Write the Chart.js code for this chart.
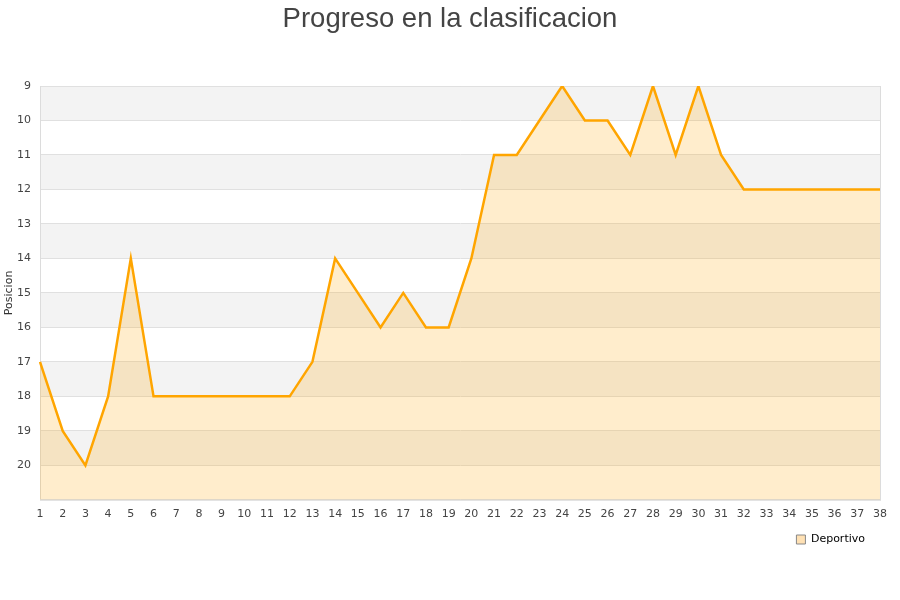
<!DOCTYPE html>
<html>
<head>
<meta charset="utf-8">
<script src="https://cdn.jsdelivr.net/npm/chart.js@4/dist/chart.umd.min.js"></script>
<style>
  body { margin: 0; background: #fff; }
</style>
</head>
<body>
<canvas id="line-chart" width="900" height="600"></canvas>
<script>
// jornadas y posiciones
let jornadas = [];
for (let j = 1; j <= 38; j++) jornadas.push(String(j));
let posiciones = [17, 19, 20, 18, 14, 18, 18, 18, 18, 18, 18, 18, 17, 14, 15, 16, 15, 16, 16, 14,
                  11, 11, 10, 9, 10, 10, 11, 9, 11, 9, 11, 12, 12, 12, 12, 12, 12, 12];
let equipo = "Deportivo";

// bandas grises alternas detras de la linea
const bandas = {
    id: 'bandas',
    beforeDraw(chart) {
        let ctx = chart.ctx, area = chart.chartArea, y = chart.scales.y;
        // la leyenda termina un poco antes del borde del grafico
        chart.legend.right = area.right - 5;
        ctx.save();
        ctx.fillStyle = '#f3f3f3';
        for (let v = 9; v < 21; v += 2) {
            let top = y.getPixelForValue(v), bot = y.getPixelForValue(v + 1);
            ctx.fillRect(area.left, top, area.right - area.left, bot - top);
        }
        ctx.strokeStyle = '#dcdcdc';
        ctx.lineWidth = 1;
        ctx.strokeRect(area.left + 0.5, area.top + 0.5, area.right - area.left, area.bottom - area.top);
        ctx.restore();
    }
};

const config = {
    type: 'line',
    data: {
        labels: jornadas,
        datasets: [{
            label: equipo,
            data: posiciones,
            borderColor: '#ffa500',
            backgroundColor: 'rgba(255, 165, 0, 0.2)',
            borderWidth: 2.5,
            fill: 'start',
            pointRadius: 0,
            tension: 0
        }]
    },
    options: {
        responsive: false,
        animation: false,
        layout: { padding: { left: 0, right: 0, top: 0, bottom: 45 } },
        plugins: {
            title: {
                display: true,
                text: 'Progreso en la clasificacion',
                color: '#444',
                font: { family: 'Liberation Sans', size: 27.5, weight: 'normal' },
                padding: { top: 3, bottom: 50 }
            },
            legend: {
                position: 'bottom',
                align: 'end',
                labels: {
                    color: '#111',
                    boxWidth: 9,
                    boxHeight: 9,
                    padding: 10,
                    font: { family: 'DejaVu Sans', size: 11 },
                    generateLabels: function(chart) {
                        return [{
                            text: equipo,
                            fillStyle: 'rgba(255, 205, 130, 0.6)',
                            strokeStyle: '#888',
                            lineWidth: 1,
                            datasetIndex: 0
                        }];
                    }
                }
            },
            tooltip: { enabled: false }
        },
        scales: {
            x: {
                offset: false,
                afterFit: function(scale) { scale.height -= 5; },
                grid: { display: false, drawTicks: false },
                border: { color: '#dcdcdc' },
                ticks: {
                    color: '#444',
                    font: { family: 'DejaVu Sans', size: 11 },
                    padding: 8,
                    maxRotation: 0,
                    autoSkip: false
                }
            },
            y: {
                reverse: true,
                min: 9,
                max: 21,
                afterFit: function(scale) { scale.width = 40; },
                title: {
                    display: true,
                    text: 'Posicion',
                    color: '#333',
                    font: { family: 'DejaVu Sans', size: 11 },
                    padding: { top: 3, bottom: 0 }
                },
                grid: { color: '#e0e0e0', drawTicks: false },
                border: { color: '#dcdcdc' },
                ticks: {
                    stepSize: 1,
                    color: '#444',
                    padding: 9,
                    font: { family: 'DejaVu Sans', size: 11 },
                    callback: function(v) { return v === 21 ? '' : v; }
                }
            },
            // eje vacio a la derecha para dejar margen
            y2: {
                position: 'right',
                afterFit: function(scale) { scale.width = 20; },
                grid: { display: false },
                border: { display: false },
                ticks: { display: false }
            }
        }
    },
    plugins: [bandas]
};

let myChart = new Chart(document.querySelector('#line-chart'), config);
</script>
</body>
</html>
